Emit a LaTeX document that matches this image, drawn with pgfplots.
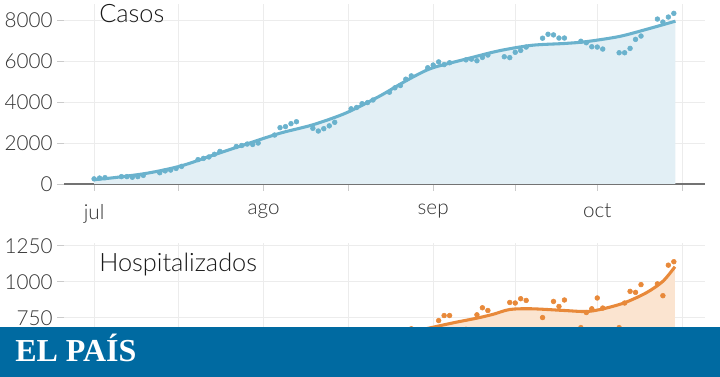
\documentclass[border=0pt]{standalone}
\usepackage{pgfplots}
\pgfplotsset{compat=1.18}
\usepackage{fontspec}
\setmainfont{Lato Light}
\newfontfamily\logofont{Liberation Serif}
\definecolor{blueline}{RGB}{106,178,205}
\definecolor{bluefill}{RGB}{226,239,245}
\definecolor{orangeline}{RGB}{232,137,58}
\definecolor{orangefill}{RGB}{251,228,208}
\definecolor{gridgray}{RGB}{236,236,236}
\definecolor{banner}{RGB}{0,106,161}
\definecolor{labelgray}{RGB}{50,50,50}

\pgfplotstableread{
d v
0 210
4 320
10 540
16 890
22 1430
28 1960
34 2480
40 2890
46 3460
52 4260
56 4880
59 5320
62 5680
68 6100
74 6500
80 6770
86 6860
90 6950
96 7200
101 7550
106.3 7950
}\casostrend

\pgfplotstableread{
d v
0 250
1 290
2 310
5 360
6 360
7 330
8 360
9 420
12 550
13 640
14 680
15 760
16 860
19 1190
20 1250
21 1320
22 1450
23 1590
26 1830
27 1880
28 1950
29 1930
30 2000
33 2390
34 2750
35 2800
36 2945
37 3040
40 2718
41 2586
42 2700
43 2838
44 3011
47 3670
48 3735
49 3920
50 3975
51 4100
54 4480
55 4695
56 4806
57 5117
58 5278
61 5675
62 5807
63 5960
64 5830
65 5920
68 6060
69 6095
70 6017
71 6180
72 6295
75 6212
76 6170
77 6430
78 6520
79 6685
82 7118
83 7310
84 7278
85 7125
86 7125
89 6968
90 6896
91 6700
92 6685
93 6588
96 6407
97 6407
98 6620
99 7060
100 7222
103 8052
104 7906
105 8150
106 8330
}\casosdots

\pgfplotstableread{
d v
0 250
30 400
50 560
58 650
62 685
66 718
70 748
73 775
76 808
80 813
86 801
90 794
93 812
97 855
101 925
104 1004
106.2 1105
}\hosptrend

\pgfplotstableread{
d v
54 540
55 560
56 600
57 620
58 674
61 640
62 660
63 731
64 766
65 766
68 670
69 660
70 771
71 820
72 801
75 660
76 857
77 853
78 883
79 871
82 752
83 650
84 864
85 829
86 874
89 682
90 787
91 813
92 888
93 818
96 682
97 853
98 934
99 927
100 981
103 986
104 904
105 1116
106 1140
}\hospdots

\pgfplotsset{
  common/.style={
    scale only axis,
    width=480.75pt,
    xmin=-5.5, xmax=111.7,
    axis x line*=bottom, axis y line*=left,
    y axis line style={draw=none},
    xtick={0,31,62,92},
    minor xtick={15.5,46.5,77,107.5},
    grid=both,
    major grid style={gridgray, line width=0.7pt},
    minor grid style={gridgray, line width=0.7pt},
    tick align=outside,
    major tick length=5pt, minor tick length=5pt,
    tick style={gridgray!70!gray, line width=0.7pt},
    tick label style={font=\fontsize{15.5}{17}\selectfont, text=labelgray},
    /pgf/number format/assume math mode=true,
    /pgf/number format/set thousands separator={},
    clip=true,
  }
}

\begin{document}
\begin{tikzpicture}
\path[use as bounding box] (0pt,0pt) rectangle (540pt,282.75pt);

% Top: Casos
\begin{axis}[common,
  at={(48pt,144.75pt)}, anchor=south west,
  height=135.2pt,
  ymin=0, ymax=8800,
  ytick={0,2000,4000,6000,8000},
  xticklabels={jul,ago,sep,oct},
  x axis line style={draw=black!55, line width=1.1pt},
  xticklabel style={yshift=-6.5pt},
]
\addplot[fill=bluefill, draw=none, smooth] table[x=d,y=v]{\casostrend} \closedcycle;
\addplot[only marks, mark=*, mark size=1.8pt, color=blueline] table[x=d,y=v]{\casosdots};
\addplot[blueline, line width=2.3pt, smooth] table[x=d,y=v]{\casostrend};
\end{axis}
\node[anchor=base west, inner sep=0pt, font=\fontsize{19}{20}\selectfont, text=black!90] at (74.25pt,265.5pt) {Casos};

% Bottom: Hospitalizados
\begin{axis}[common,
  at={(48pt,23.85pt)}, anchor=south west,
  height=76.65pt,
  ymin=560, ymax=1270,
  ytick={250,500,750,1000,1250},
  xticklabels={},
  x axis line style={draw=none},
]
\addplot[fill=orangefill, draw=none, smooth] table[x=d,y=v]{\hosptrend} \closedcycle;
\addplot[only marks, mark=*, mark size=1.8pt, color=orangeline] table[x=d,y=v]{\hospdots};
\addplot[orangeline, line width=2.3pt, smooth] table[x=d,y=v]{\hosptrend};
\end{axis}
\node[anchor=base west, inner sep=0pt, font=\fontsize{19}{20}\selectfont, text=black!90] at (74.25pt,78.75pt) {Hospitalizados};

% Banner
\fill[banner] (0pt,0pt) rectangle (540pt,37.5pt);
\node[anchor=base west, inner sep=0pt, text=white, font=\logofont\bfseries\fontsize{24}{26}\selectfont] at (11.25pt,11.25pt) {EL PAÍS};
\end{tikzpicture}
\end{document}
